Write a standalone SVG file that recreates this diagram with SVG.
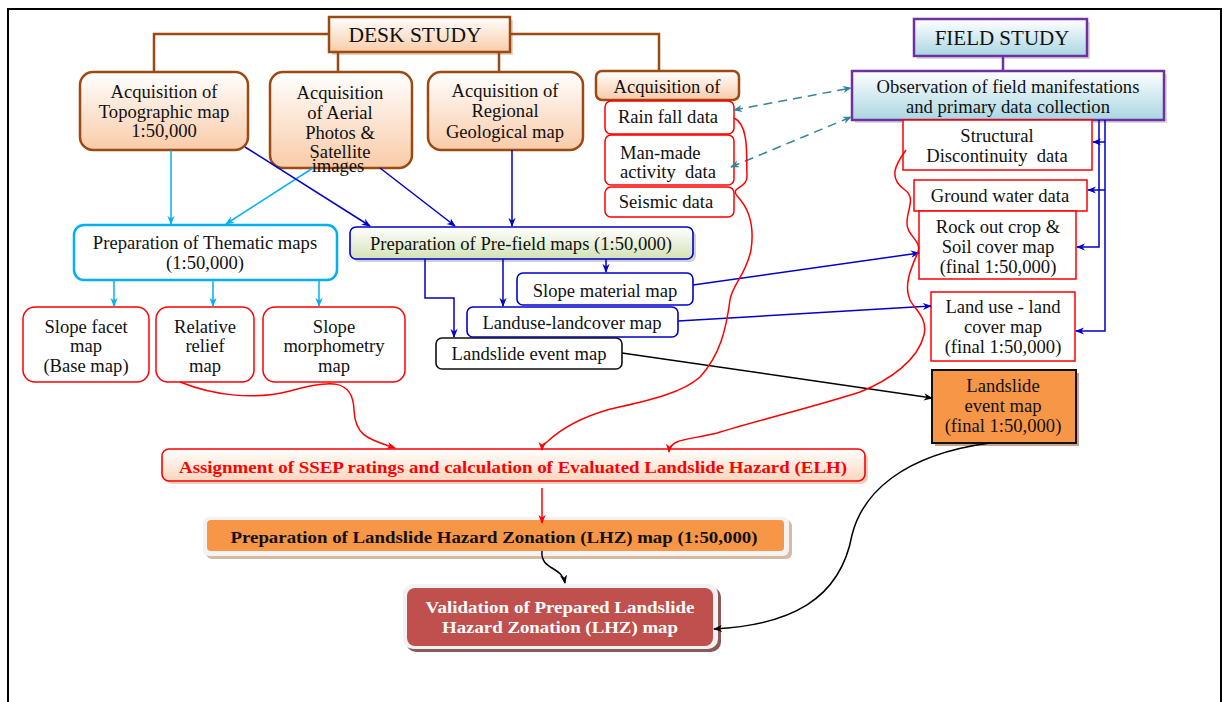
<svg xmlns="http://www.w3.org/2000/svg" width="1225" height="702" viewBox="0 0 1225 702">
<style>
text{font-family:"Liberation Serif","Times New Roman",serif;fill:#111;font-size:18.6px;text-anchor:middle}
.pre{white-space:pre}
.brown{fill:url(#gPeach);stroke:#9a4a12;stroke-width:2.5}
.red{fill:#fff;stroke:#ff0000;stroke-width:1.5}
.blue{fill:#fff;stroke:#0000cc;stroke-width:1.6}
.purple{fill:url(#gBlue);stroke:#7030a0;stroke-width:2.5}
.sh{fill:#e8d2c2}
.cb{fill:none;stroke:#9a4a12;stroke-width:2.5}
.cdb{fill:none;stroke:#0000cc;stroke-width:1.5;marker-end:url(#aBlue)}
.ccy{fill:none;stroke:#00b0f0;stroke-width:1.5;marker-end:url(#aCyan)}
.crd{fill:none;stroke:#ff0000;stroke-width:1.5;marker-end:url(#aRed)}
.cbk{fill:none;stroke:#000;stroke-width:1.5;marker-end:url(#aBlack)}
.ctl{fill:none;stroke:#31849b;stroke-width:1.5;stroke-dasharray:9,6;marker-end:url(#aTeal);marker-start:url(#aTeal)}
.bold{font-weight:bold;font-size:16.5px}
</style>
<defs>
<linearGradient id="gPeach" x1="0" y1="0" x2="0" y2="1"><stop offset="0" stop-color="#ffffff"/><stop offset="1" stop-color="#f9cba8"/></linearGradient>
<linearGradient id="gBlue" x1="0" y1="0" x2="0" y2="1"><stop offset="0" stop-color="#ffffff"/><stop offset="1" stop-color="#a9d6e2"/></linearGradient>
<linearGradient id="gGreen" x1="0" y1="0" x2="0" y2="1"><stop offset="0" stop-color="#ffffff"/><stop offset="1" stop-color="#d3e2b6"/></linearGradient>
<linearGradient id="gElh" x1="0" y1="0" x2="0" y2="1"><stop offset="0" stop-color="#ffffff"/><stop offset="1" stop-color="#fbd6bd"/></linearGradient>
<marker id="aBlue" viewBox="0 0 10 10" refX="9" refY="5" markerWidth="9" markerHeight="9" markerUnits="userSpaceOnUse" orient="auto"><path d="M0,1 L10,5 L0,9 L3,5 z" fill="#0000cc"/></marker>
<marker id="aCyan" viewBox="0 0 10 10" refX="9" refY="5" markerWidth="9" markerHeight="9" markerUnits="userSpaceOnUse" orient="auto"><path d="M0,1 L10,5 L0,9 L3,5 z" fill="#00b0f0"/></marker>
<marker id="aRed" viewBox="0 0 10 10" refX="9" refY="5" markerWidth="9" markerHeight="9" markerUnits="userSpaceOnUse" orient="auto"><path d="M0,1 L10,5 L0,9 L3,5 z" fill="#ff0000"/></marker>
<marker id="aBlack" viewBox="0 0 10 10" refX="9" refY="5" markerWidth="9" markerHeight="9" markerUnits="userSpaceOnUse" orient="auto"><path d="M0,1 L10,5 L0,9 L3,5 z" fill="#000"/></marker>
<marker id="aTeal" viewBox="0 0 10 10" refX="9" refY="5" markerWidth="9" markerHeight="9" markerUnits="userSpaceOnUse" orient="auto-start-reverse"><path d="M0,1 L10,5 L0,9 L3,5 z" fill="#31849b"/></marker>
</defs>
<rect width="1225" height="702" fill="#fff"/>
<path d="M8,702 V9 H1221 V702" fill="none" stroke="#000" stroke-width="2"/>

<g id="desk-study">
<rect class="sh" x="332" y="20" width="181" height="35"/>
<rect class="brown" x="329" y="17" width="181" height="35"/>
<text x="415" y="42" style="font-size:21.5px">DESK STUDY</text>
</g>
<g id="acq-topo">
<rect class="brown" x="80" y="72" width="168" height="78" rx="13"/>
<text x="164" y="98">Acquisition of</text><text x="164" y="118">Topographic map</text><text x="164" y="137">1:50,000</text>
</g>
<g id="acq-aerial">
<rect class="brown" x="270" y="72" width="142" height="96" rx="13"/>
<text x="340" y="99">Acquisition</text><text x="340" y="119">of Aerial</text><text x="340" y="139">Photos &amp;</text><text x="340" y="158">Satellite</text><text x="338" y="172">images</text>
</g>
<g id="acq-regional">
<rect class="brown" x="428" y="72" width="155" height="78" rx="13"/>
<text x="505" y="97">Acquisition of</text><text x="505" y="117">Regional</text><text x="505" y="138">Geological map</text>
</g>
<g id="acq-of">
<rect class="brown" x="596" y="71" width="143" height="29" rx="6"/>
<text x="667" y="93">Acquisition of</text>
</g>
<g id="rainfall">
<rect class="red" x="605" y="101" width="129" height="33" rx="6"/>
<text x="668" y="123">Rain fall data</text>
</g>
<g id="manmade">
<rect class="red" x="605" y="135" width="129" height="50" rx="6"/>
<text x="620" y="159" style="text-anchor:start">Man-made</text><text class="pre" x="620" y="178" style="text-anchor:start">activity  data</text>
</g>
<g id="seismic">
<rect class="red" x="605" y="187" width="129" height="30" rx="6"/>
<text x="666" y="208">Seismic data</text>
</g>

<g id="field-study">
<rect x="917" y="22" width="173" height="37" fill="#d9d9e0"/>
<rect class="purple" x="914" y="19" width="173" height="37"/>
<text x="1002" y="45" style="font-size:21px">FIELD STUDY</text>
</g>
<g id="observation">
<rect x="855" y="74" width="312" height="49" fill="#d9d9e0"/>
<rect class="purple" x="852" y="71" width="312" height="49"/>
<text x="1008" y="93">Observation of field manifestations</text><text x="1008" y="113">and primary data collection</text>
</g>
<g id="structural">
<rect class="red" x="903" y="120" width="189" height="50"/>
<text x="997" y="142">Structural</text><text class="pre" x="997" y="162">Discontinuity  data</text>
</g>
<g id="groundwater">
<rect class="red" x="914" y="180" width="173" height="31"/>
<text x="1000" y="202">Ground water data</text>
</g>
<g id="rockoutcrop">
<rect class="red" x="919" y="211" width="157" height="68"/>
<text x="998" y="233">Rock out crop &amp;</text><text x="998" y="253">Soil cover map</text><text x="998" y="273">(final 1:50,000)</text>
</g>
<g id="landuse-final">
<rect class="red" x="931" y="292" width="144" height="69"/>
<text x="1003" y="313">Land use - land</text><text x="1003" y="333">cover map</text><text x="1003" y="353">(final 1:50,000)</text>
</g>
<g id="landslide-final">
<rect x="935" y="373" width="144" height="73" fill="#c9a48a"/>
<rect x="932" y="370" width="144" height="73" fill="#f79646" stroke="#111" stroke-width="2"/>
<text x="1003" y="392">Landslide</text><text x="1003" y="412">event map</text><text x="1003" y="432">(final 1:50,000)</text>
</g>

<g id="thematic">
<rect x="74" y="225" width="263" height="55" rx="10" fill="#fff" stroke="#00b0f0" stroke-width="2.5"/>
<text x="205" y="249">Preparation of Thematic maps</text><text x="205" y="269">(1:50,000)</text>
</g>
<g id="slope-facet">
<rect class="red" x="23" y="307" width="126" height="75" rx="12"/>
<text x="86" y="333">Slope facet</text><text x="86" y="352">map</text><text x="86" y="372">(Base map)</text>
</g>
<g id="relative-relief">
<rect class="red" x="156" y="307" width="98" height="75" rx="12"/>
<text x="205" y="333">Relative</text><text x="205" y="352">relief</text><text x="205" y="372">map</text>
</g>
<g id="slope-morph">
<rect class="red" x="263" y="307" width="142" height="75" rx="12"/>
<text x="334" y="333">Slope</text><text x="334" y="352">morphometry</text><text x="334" y="372">map</text>
</g>

<g id="prefield">
<rect x="353" y="230" width="343" height="32" rx="6" fill="#d0d0d0"/>
<rect x="350" y="227" width="343" height="32" rx="6" fill="url(#gGreen)" stroke="#0000cc" stroke-width="1.6"/>
<text x="521" y="250">Preparation of Pre-field maps (1:50,000)</text>
</g>
<g id="slope-material">
<rect class="blue" x="517" y="273" width="176" height="32" rx="6"/>
<text x="605" y="297">Slope material map</text>
</g>
<g id="landuse-landcover">
<rect class="blue" x="467" y="307" width="211" height="30" rx="6"/>
<text x="572" y="329">Landuse-landcover map</text>
</g>
<g id="landslide-event">
<rect x="436" y="338" width="186" height="31" rx="6" fill="#fff" stroke="#111" stroke-width="1.6"/>
<text x="529" y="360">Landslide event map</text>
</g>

<g id="elh">
<rect x="165" y="452" width="703" height="32" rx="7" fill="#e6d0c2"/>
<rect x="162" y="449" width="703" height="32" rx="7" fill="url(#gElh)" stroke="#ff0000" stroke-width="1.6"/>
<text class="bold" x="513" y="473" style="fill:#ff0000" textLength="668" lengthAdjust="spacingAndGlyphs">Assignment of SSEP ratings and calculation of Evaluated Landslide Hazard (ELH)</text>
</g>
<g id="lhz">
<rect x="206" y="520" width="586" height="39" rx="6" fill="#d9b9a0"/>
<rect x="203" y="517" width="586" height="39" rx="6" fill="#f2f2f2"/>
<rect x="207" y="520" width="577" height="31" rx="4" fill="#f79646"/>
<text class="bold" x="494" y="543" textLength="527" lengthAdjust="spacingAndGlyphs">Preparation of Landslide Hazard Zonation (LHZ) map (1:50,000)</text>
</g>
<g id="validation">
<rect x="406" y="587" width="315" height="65" rx="10" fill="#8a5a58"/>
<rect x="403" y="584" width="315" height="65" rx="10" fill="#f2f2f2"/>
<rect x="407" y="588" width="306" height="58" rx="8" fill="#c0504d"/>
<text class="bold" x="560" y="613" style="fill:#fff" textLength="269" lengthAdjust="spacingAndGlyphs">Validation of Prepared Landslide</text>
<text class="bold" x="560" y="633" style="fill:#fff" textLength="236" lengthAdjust="spacingAndGlyphs">Hazard Zonation (LHZ) map</text>
</g>

<g id="connectors">
<path class="cb" d="M329,34 H154 V72"/>
<path class="cb" d="M338,52 V72"/>
<path class="cb" d="M499,52 V72"/>
<path class="cb" d="M510,34 H659 V71"/>
<path d="M1003,56 V71" fill="none" stroke="#7030a0" stroke-width="2.5"/>
<path class="ccy" d="M171,150 V224"/>
<path class="ccy" d="M313,168 L226,224"/>
<path class="ccy" d="M114,280 V306"/>
<path class="ccy" d="M213,280 V306"/>
<path class="ccy" d="M319,280 V306"/>
<path class="cdb" d="M245,147 L370,226"/>
<path class="cdb" d="M380,168 L455,226"/>
<path class="cdb" d="M512,150 V226"/>
<path class="cdb" d="M425,259 V298 H454 V337"/>
<path class="cdb" d="M503,259 V306"/>
<path class="cdb" d="M606,259 V272"/>
<path class="cdb" d="M693,285 L919,253"/>
<path class="cdb" d="M678,321 L931,306"/>
<path class="cdb" d="M1099,120 V247 H1077"/>
<path class="cdb" d="M1105,120 V331 H1076"/>
<path class="cdb" d="M1105,142 H1093"/>
<path class="cdb" d="M1105,190 H1088"/>
<path class="cbk" d="M622,353 L932,398"/>
<path class="ctl" d="M734,110 L851,88"/>
<path class="ctl" d="M731,167 L851,117"/>
<path class="crd" d="M180,382 C215,396 255,400 290,391 C330,380 353,378 354,410 C355,438 372,440 395,448"/>
<path class="crd" d="M734,118 C750,125 746,160 747,175 C748,190 728,186 738,197 C752,212 754,230 751,250 C746,275 732,285 730,300 C726,330 720,355 700,377 C680,395 640,402 607,410 C580,418 560,430 548,441 C543,445 542,447 542,450"/>
<path class="crd" d="M906,150 C895,165 888,178 905,190 C916,198 907,210 907,222 C906,236 922,240 918,252 C912,266 903,285 910,300 C915,310 928,318 924,335 C918,360 890,380 860,392 C820,405 760,420 717,433 C690,440 670,438 669,452"/>
<path class="crd" d="M542,488 V523"/>
<path class="cbk" d="M542,551 C540,570 562,566 565,583"/>
<path class="cbk" d="M990,443 C900,455 862,495 852,535 C840,600 790,625 714,629"/>
</g>
</svg>
